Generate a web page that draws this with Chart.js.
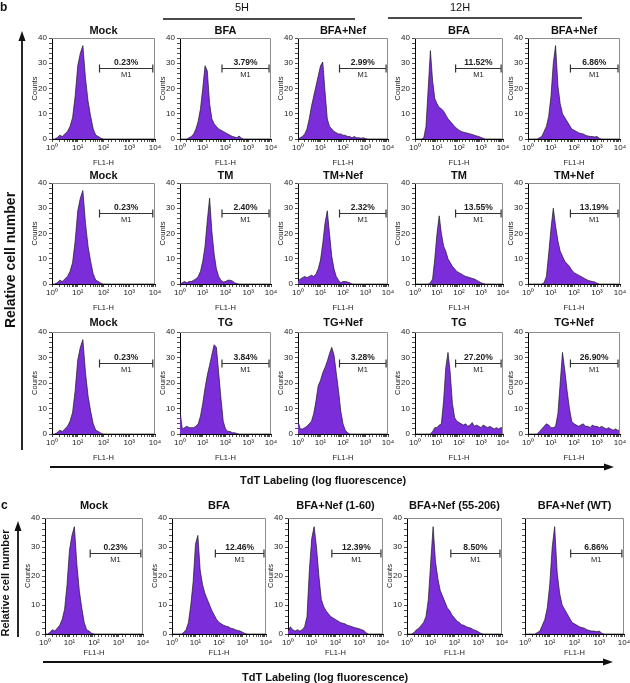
<!DOCTYPE html>
<html>
<head>
<meta charset="utf-8">
<script src="https://cdn.jsdelivr.net/npm/chart.js@4.4.1/dist/chart.umd.min.js"></script>
<style>
  body { margin: 0; background: #fff; }
  #fig { position: relative; width: 630px; height: 683px; overflow: hidden; font-family: 'Liberation Sans', Arial, sans-serif; }
  #fig canvas { position: absolute; z-index: 1; }
  #fig svg { position: absolute; left: 0; top: 0; z-index: 2; pointer-events: none; }
</style>
</head>
<body>
<div id="fig">
<svg width="630" height="683" font-family="'Liberation Sans', Arial, sans-serif" fill="#111">
  <text x="0" y="11" font-size="12" font-weight="bold">b</text>
  <text x="242" y="11" font-size="11" text-anchor="middle">5H</text>
  <line x1="163" y1="19" x2="355" y2="19" stroke="#111" stroke-width="1.5"/>
  <text x="460" y="11" font-size="11" text-anchor="middle">12H</text>
  <line x1="388" y1="18" x2="582" y2="18" stroke="#111" stroke-width="1.5"/>
  <line x1="22" y1="38" x2="22" y2="450" stroke="#111" stroke-width="1.8"/>
  <polygon points="22,31 18.5,41 25.5,41"/>
  <text transform="translate(15,260) rotate(-90)" font-size="14" font-weight="bold" text-anchor="middle">Relative cell number</text>
  <line x1="50" y1="467" x2="607" y2="467" stroke="#111" stroke-width="1.8"/>
  <polygon points="614,467 604,463.5 604,470.5"/>
  <text x="240" y="484" font-size="11" font-weight="bold">TdT Labeling (log fluorescence)</text>

  <text x="1" y="509" font-size="12" font-weight="bold">c</text>
  <line x1="18" y1="528" x2="18" y2="637" stroke="#111" stroke-width="1.8"/>
  <polygon points="18,521 14.5,531 21.5,531"/>
  <text transform="translate(9,583) rotate(-90)" font-size="11" font-weight="bold" text-anchor="middle">Relative cell number</text>
  <line x1="43" y1="662" x2="606" y2="662" stroke="#111" stroke-width="1.8"/>
  <polygon points="613,662 603,658.5 603,665.5"/>
  <text x="242" y="681" font-size="11" font-weight="bold">TdT Labeling (log fluorescence)</text>
</svg>
</div>
<script>
// FL1-H channel positions (log spaced, 0.1 decade)
const channels = [1, 1.26, 1.58, 2, 2.51, 3.16, 3.98, 5.01, 6.31, 7.94,
                  10, 12.6, 15.8, 20, 25.1, 31.6, 39.8, 50.1, 63.1, 79.4,
                  100, 126, 158, 200, 251, 316, 398, 501, 631, 794,
                  1000, 1259, 1585, 1995, 2512, 3162, 3981, 5012, 6310, 7943,
                  9550, 10000];
const decadeLabels = ['10⁰', '10¹', '10²', '10³', '10⁴'];
const countTicks = [0, 10, 20, 30, 40];
const m1Range = [70, 8200];
const m1Level = 28;

// counts per channel
const mock = [0, 0, 0.5, 1.5, 1, 2, 3, 5, 8.5, 17,
              29, 34, 37, 24, 15, 9, 4, 1.5, 1, 0.3,
              0, 0, 0, 0, 0, 0, 0, 0, 0, 0,
              0, 0, 0, 0, 0, 0, 0, 0, 0, 0, 0, 0];
const bfa5h = [0, 0, 0, 0, 0.5, 1, 2, 4, 7, 12,
               20, 29, 27, 14, 8, 6, 5, 4, 3.5, 3,
               2.5, 2, 1.5, 1, 0.8, 0.5, 1.2, 0.3, 0, 0,
               0, 0, 0, 0, 0, 0, 0, 0, 0, 0, 0, 8];
const bfaNef5h = [0, 0.5, 1, 2, 4, 8, 13, 17, 21, 25,
                  29, 30.5, 19, 8, 5, 4, 3, 2.5, 2, 2,
                  1.5, 1.5, 1, 1, 0.5, 1, 0.5, 0.5, 0.3, 0.5,
                  0.2, 0, 0, 0, 0, 0, 0, 0, 0, 0, 0, 0];
const bfa12h = [0, 0, 0, 0, 0.5, 5, 20, 35, 23, 16,
                14, 12.5, 12, 11, 9.5, 8, 7, 6, 5, 4.2,
                3.5, 3, 2.7, 2.5, 2.3, 2, 1.8, 1.5, 1.2, 1,
                0.6, 0.3, 0, 0, 0, 0, 0, 0, 0, 0, 0, 0];
const bfaNef12h = [0, 0, 0, 0, 0, 0.5, 1, 3, 5, 9,
                   17, 30, 37, 21, 14, 10, 8.5, 7, 5.5, 4,
                   3.5, 3, 2.5, 2.2, 2, 1.5, 1.2, 1, 1, 0.8,
                   1, 0.3, 0, 0, 0, 0, 0, 0, 0, 0, 0, 0];
const tm5h = [0, 0.5, 1, 0.5, 1, 1, 1.5, 2, 3, 5,
              9, 15, 25, 34, 21, 12, 6, 3, 1.5, 0.8,
              1, 1.5, 1.5, 1.2, 0.5, 0.2, 0, 0, 0, 0,
              0, 0, 0, 0, 0, 0, 0, 0, 0, 0, 0, 0];
const tmNef5h = [1, 2, 2.5, 3, 2.5, 3, 3.5, 3, 4, 6,
                 9.5, 16, 24, 29, 20, 11, 6, 3, 1.5, 0.5,
                 1, 1, 0.8, 0.5, 0, 0, 0, 0, 0, 0,
                 0, 0, 0, 0, 0, 0, 0, 0, 0, 0, 0, 0];
const tm12h = [0, 0, 0, 0, 0, 0, 0, 0.5, 2, 10,
               20, 27, 20, 15, 13, 10, 8.5, 7, 6, 5,
               4.5, 4, 3.5, 3, 2.8, 2.5, 2.2, 2, 1.5, 1,
               0.5, 0.2, 0, 0, 0, 0, 0, 0, 0, 0, 0, 0];
const tmNef12h = [0, 0, 0, 0, 0, 0, 0, 0.5, 3, 12,
                  22, 30, 23, 17, 13, 11, 9, 8, 7, 5.5,
                  4.5, 4, 3.5, 3, 2.5, 2, 1.5, 1.2, 1, 0.8,
                  0.3, 0, 0, 0, 0, 0, 0, 0, 0, 0, 0, 0];
const tg5h = [9, 2, 2.5, 3, 2.5, 2.5, 2.5, 3, 4, 7,
              12, 18, 23, 27, 31, 35, 34, 24, 14, 5,
              2, 1, 1, 0.5, 0.5, 0.2, 0, 0, 0, 0,
              0, 0, 0, 0, 0, 0, 0, 0, 0, 0, 0, 0];
const tgNef5h = [5, 2, 2, 2.5, 3, 4, 5, 8, 13, 19,
                 21, 24, 26, 28.5, 31.5, 34, 31, 24, 17, 9,
                 4, 1.5, 0.5, 0, 0, 0, 0, 0, 0, 0,
                 0, 0, 0, 0, 0, 0, 0, 0, 0, 0, 0, 0];
const tg12h = [0, 0, 0, 0, 0, 0, 0, 0, 1, 2.5,
               2.5, 3.5, 4, 13, 26, 32, 24, 12, 6.5, 5,
               4.5, 4, 3.5, 4, 3, 3.5, 4.5, 3, 3.5, 3,
               2.5, 3.5, 3, 2.5, 3, 2.5, 2, 2.5, 2, 2.5, 2.5, 8];
const tgNef12h = [0, 0, 0, 0, 0, 1, 2, 3, 4, 3.5,
                  2.5, 2.5, 3, 8, 20, 32, 25, 17, 10, 5,
                  4, 3.5, 3, 3.5, 4, 3, 3, 2.5, 3.5, 3,
                  3, 2.5, 3, 2.5, 2, 2.5, 2, 1.5, 2, 1.5, 1.5, 10];
const bfaC = [0, 0, 0, 0, 0, 0.5, 1.5, 4, 10, 18,
              31, 34, 22, 17, 14, 12, 10, 8, 6.5, 5,
              4, 3.5, 3, 2.7, 2.5, 2, 1.8, 1.5, 1.2, 1,
              0.6, 0.2, 0, 0, 0, 0, 0, 0, 0, 0, 0, 0];
const bfaNef1to60 = [1, 2.5, 1.5, 1, 1.5, 1, 1.5, 2.5, 6, 22,
                     33, 37, 30, 20, 12, 9.5, 8, 7, 6, 5.5,
                     5, 4.5, 4, 3.7, 3.5, 3, 2.8, 2.5, 2.2, 2,
                     1.8, 1.5, 1.2, 0.3, 0, 0, 0, 0, 0, 0, 0, 0];
const bfaNef55to206 = [0, 0, 0, 0.5, 1.5, 2, 3, 4, 6, 12,
                       25, 37, 25, 19, 15, 13, 11, 9, 8, 6.5,
                       5.5, 4.5, 4, 3.2, 3, 2.5, 2.2, 2, 1.5, 1.2,
                       0.8, 0.3, 0, 0, 0, 0, 0, 0, 0, 0, 0, 0];

const panelTitles = ['Mock', 'BFA', 'BFA+Nef', 'BFA', 'BFA+Nef',
                     'Mock', 'TM', 'TM+Nef', 'TM', 'TM+Nef',
                     'Mock', 'TG', 'TG+Nef', 'TG', 'TG+Nef',
                     'Mock', 'BFA', 'BFA+Nef (1-60)', 'BFA+Nef (55-206)', 'BFA+Nef (WT)'];
const panelPercents = ['0.23%', '3.79%', '2.99%', '11.52%', '6.86%',
                       '0.23%', '2.40%', '2.32%', '13.55%', '13.19%',
                       '0.23%', '3.84%', '3.28%', '27.20%', '26.90%',
                       '0.23%', '12.46%', '12.39%', '8.50%', '6.86%'];
const panelSeries = [mock, bfa5h, bfaNef5h, bfa12h, bfaNef12h,
                     mock, tm5h, tmNef5h, tm12h, tmNef12h,
                     mock, tg5h, tgNef5h, tg12h, tgNef12h,
                     mock, bfaC, bfaNef1to60, bfaNef55to206, bfaNef12h];

// layout of plot frames (pixels)
const colsB = [[52, 155], [180, 271], [298, 388], [415, 503], [528, 620]];
const rowsB = [[38, 139], [183, 284], [332, 434]];
const titleGapB = [7, 7, 9];
const colsC = [[45, 143], [172, 266], [288, 383], [407, 502], [525, 624]];
const rowC = [518, 634];

const FONT = "'Liberation Sans', Arial, sans-serif";
Chart.defaults.font.family = FONT;
Chart.defaults.color = '#222';

const frames = [];
rowsB.forEach((r, ri) => colsB.forEach(c => frames.push({ l: c[0], r: c[1], t: r[0], b: r[1], gap: titleGapB[ri], xh: 30 })));
colsC.forEach(c => frames.push({ l: c[0], r: c[1], t: rowC[0], b: rowC[1], gap: 12, xh: 25 }));

// title, M1 gate and plot frame
const deco = {
    id: 'deco',
    afterDraw(chart, args, o) {
        const { ctx, chartArea: a, scales: { x, y } } = chart;
        ctx.save();
        ctx.strokeStyle = '#8c8c8c';
        ctx.lineWidth = 1;
        ctx.beginPath();
        ctx.moveTo(a.left, a.top + 0.5);
        ctx.lineTo(a.right - 0.5, a.top + 0.5);
        ctx.lineTo(a.right - 0.5, a.bottom);
        ctx.stroke();

        const x1 = x.getPixelForValue(m1Range[0]);
        const x2 = x.getPixelForValue(m1Range[1]);
        const yy = Math.round(y.getPixelForValue(m1Level)) + 0.5;
        ctx.strokeStyle = '#333';
        ctx.lineWidth = 1.2;
        ctx.beginPath();
        ctx.moveTo(x1, yy); ctx.lineTo(x2, yy);
        ctx.moveTo(x1, yy - 4); ctx.lineTo(x1, yy + 4);
        ctx.moveTo(x2, yy - 4); ctx.lineTo(x2, yy + 4);
        ctx.stroke();

        const mid = (x1 + x2) / 2;
        ctx.fillStyle = '#222';
        ctx.textAlign = 'center';
        ctx.font = 'bold 8.5px ' + FONT;
        ctx.textBaseline = 'bottom';
        ctx.fillText(o.pct, mid, yy - 2);
        ctx.font = '7.5px ' + FONT;
        ctx.textBaseline = 'top';
        ctx.fillText('M1', mid, yy + 3);

        ctx.fillStyle = '#111';
        ctx.font = 'bold 11px ' + FONT;
        ctx.textBaseline = 'middle';
        ctx.fillText(o.title, (a.left + a.right) / 2, a.top - o.gap);
        ctx.restore();
    }
};

const decadeLabel = (v) => {
    const e = Math.log10(v);
    const r = Math.round(e);
    return Math.abs(e - r) < 1e-6 ? decadeLabels[r] : '';
};

const fig = document.getElementById('fig');

frames.forEach((f, i) => {
    const showY = i !== 19;
    const cv = document.createElement('canvas');
    const W = (f.r - f.l) + 38;
    const H = (f.b - f.t) + 24 + f.xh;
    cv.width = W;
    cv.height = H;
    cv.style.left = (f.l - 30) + 'px';
    cv.style.top = (f.t - 24) + 'px';
    cv.style.width = W + 'px';
    cv.style.height = H + 'px';
    fig.appendChild(cv);

    const grid = { drawOnChartArea: false, drawTicks: true, tickLength: 3, tickColor: '#222', tickWidth: 0.8 };
    const border = { color: '#000', width: 1 };

    new Chart(cv, {
        type: 'line',
        data: {
            datasets: [{
                data: channels.map((c, k) => ({ x: c, y: panelSeries[i][k] })),
                fill: 'origin',
                backgroundColor: '#7a2dd8',
                borderColor: '#1a1a1a',
                borderWidth: 0.7,
                pointRadius: 0,
                tension: 0
            }]
        },
        options: {
            responsive: false,
            animation: false,
            events: [],
            layout: { padding: { top: 24, right: 8, left: 0, bottom: 0 } },
            plugins: {
                legend: { display: false },
                tooltip: { enabled: false },
                deco: { title: panelTitles[i], pct: panelPercents[i], gap: f.gap }
            },
            scales: {
                x: {
                    type: 'logarithmic',
                    min: 1,
                    max: 10000,
                    z: 1,
                    afterFit: (s) => { s.height = f.xh; },
                    grid: grid,
                    border: border,
                    ticks: {
                        autoSkip: false, maxRotation: 0, minRotation: 0, padding: 1,
                        font: { size: 8 }, color: '#222',
                        callback: (v) => decadeLabel(v)
                    },
                    title: {
                        display: true, text: 'FL1-H', color: '#222',
                        font: { size: 7.5 }, padding: { top: 0, bottom: 2 }
                    }
                },
                y: {
                    min: 0,
                    max: 40,
                    z: 1,
                    afterFit: (s) => { s.width = 30; },
                    grid: grid,
                    border: border,
                    ticks: {
                        display: showY, stepSize: 2, autoSkip: false, padding: 2,
                        font: { size: 8 }, color: '#222',
                        callback: (v) => countTicks.includes(v) ? String(v) : ''
                    },
                    title: {
                        display: showY, text: 'Counts', color: '#222',
                        font: { size: 7.5 }, padding: { top: 8, bottom: 0 }
                    }
                }
            }
        },
        plugins: [deco]
    });
});
</script>
</body>
</html>
